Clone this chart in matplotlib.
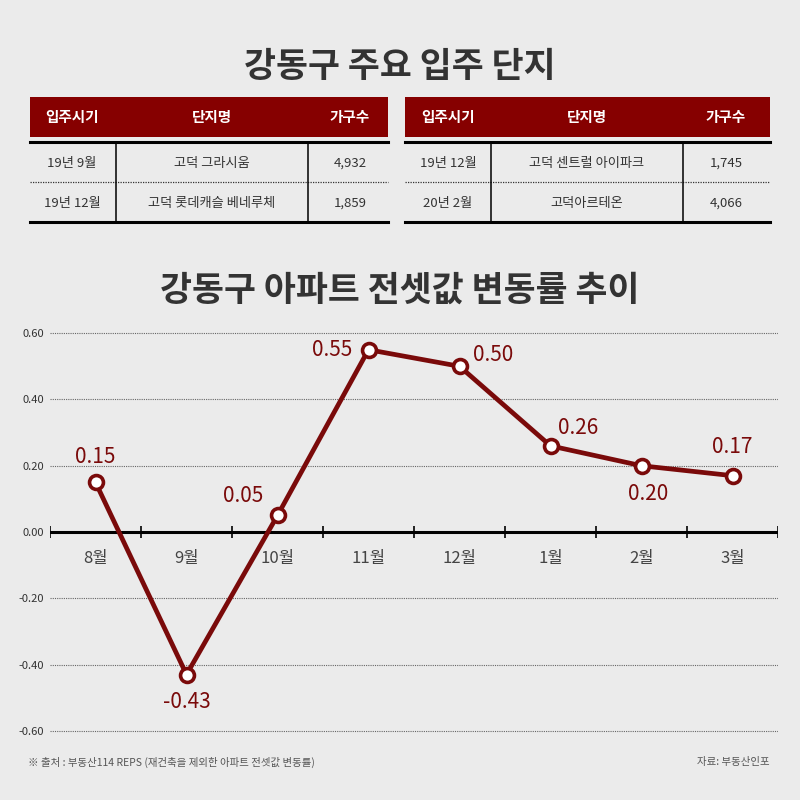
import numpy as np
import matplotlib
matplotlib.use("Agg")
import matplotlib.pyplot as plt
from matplotlib.patches import Rectangle

plt.rcParams['font.family'] = ['Noto Sans CJK KR', 'DejaVu Sans']

# ── data ─────────────────────────────────────────────
title_top = "강동구 주요 입주 단지"
title_chart = "강동구 아파트 전셋값 변동률 추이"
table_header = ["입주시기", "단지명", "가구수"]
table_left = [["19년 9월", "고덕 그라시움", "4,932"],
              ["19년 12월", "고덕 롯데캐슬 베네루체", "1,859"]]
table_right = [["19년 12월", "고덕 센트럴 아이파크", "1,745"],
               ["20년 2월", "고덕아르테온", "4,066"]]

months = ["8월", "9월", "10월", "11월", "12월", "1월", "2월", "3월"]
values = [0.15, -0.43, 0.05, 0.55, 0.50, 0.26, 0.20, 0.17]
yticks = [0.60, 0.40, 0.20, 0.00, -0.20, -0.40, -0.60]
source = "※ 출처 : 부동산114 REPS (재건축을 제외한 아파트 전셋값 변동률)"
credit = "자료: 부동산인포"

# ── style ────────────────────────────────────────────
BG = '#ebebeb'
RED = '#860000'
LINE_RED = '#7a0a0a'
DARK = '#333333'

fig = plt.figure(figsize=(8, 8), dpi=100)
fig.patch.set_facecolor(BG)

# overlay in pixel coords for titles / tables
ov = fig.add_axes([0, 0, 1, 1])
ov.set_xlim(0, 800)
ov.set_ylim(800, 0)
ov.axis('off')

ov.text(400, 66, title_top, ha='center', va='center', fontsize=25,
        fontweight='bold', color=DARK)
ov.text(400, 290, title_chart, ha='center', va='center', fontsize=25,
        fontweight='bold', color=DARK)


def draw_table(x0, x1, cols, centers, rows):
    ov.add_patch(Rectangle((x0, 97), x1 - x0, 40, color=RED, lw=0))
    for cx, h in zip(centers, table_header):
        ov.text(cx, 117, h, ha='center', va='center', fontsize=10.5,
                fontweight='bold', color='white')
    ov.plot([x0, x1], [142, 142], color='black', lw=2.2)
    ov.plot([x0, x1], [222, 222], color='black', lw=2.2)
    ov.plot([x0, x1], [182, 182], color='#333333', lw=0.9, ls=(0, (1, 1)))
    for cx in cols:
        ov.plot([cx, cx], [142, 222], color='black', lw=1.1)
    for r, ry in zip(rows, [163, 203]):
        for cx, t in zip(centers, r):
            ov.text(cx, ry, t, ha='center', va='center', fontsize=9.5,
                    color=DARK)


draw_table(30, 388, [116, 308], [72, 212, 350], table_left)
draw_table(405, 770, [491, 683], [448, 587, 726], table_right)

ov.text(28, 762, source, ha='left', va='center', fontsize=7.5, color='#555555')
ov.text(770, 762, credit, ha='right', va='center', fontsize=7.5, color='#555555')

# ── line chart ───────────────────────────────────────
ax = fig.add_axes([50 / 800, 0.06975, 728 / 800, 0.5304])
ax.set_facecolor('none')
x = np.arange(len(months))
ax.set_xlim(-0.5, len(months) - 0.5)
ax.set_ylim(-0.64, 0.64)
for s in ax.spines.values():
    s.set_visible(False)

for yv in yticks:
    if yv != 0:
        ax.axhline(yv, color='#666666', lw=0.8, ls=(0, (1, 1)), zorder=1)
ax.axhline(0, color='black', lw=2.2, zorder=2)
ax.vlines(np.arange(-0.5, len(months)), -0.018, 0.018, color='black', lw=1.2, zorder=2)

ax.set_xticks([])
ax.set_yticks(yticks)
ax.set_yticklabels([f"{v:.2f}" for v in yticks], fontsize=8, color=DARK)
ax.tick_params(axis='y', length=0, pad=4)

for i, m in enumerate(months):
    ax.text(i, -0.08, m, ha='center', va='center', fontsize=12, color='#444444')

ax.plot(x, values, color=LINE_RED, lw=3.4, zorder=3,
        marker='o', markersize=10, markerfacecolor='white',
        markeredgecolor=LINE_RED, markeredgewidth=2.6)

# label offsets in points (dx, dy)
offsets = [(0, 18), (0, -20), (-25, 14), (-26, 0), (24, 8), (20, 13), (5, -20), (0, 21)]
for xi, v, (dx, dy) in zip(x, values, offsets):
    ax.annotate(f"{v:.2f}", (xi, v), xytext=(dx, dy), textcoords='offset points',
                ha='center', va='center', fontsize=15, color=LINE_RED, zorder=4)

fig.savefig('out.png', dpi=100, facecolor=BG)
